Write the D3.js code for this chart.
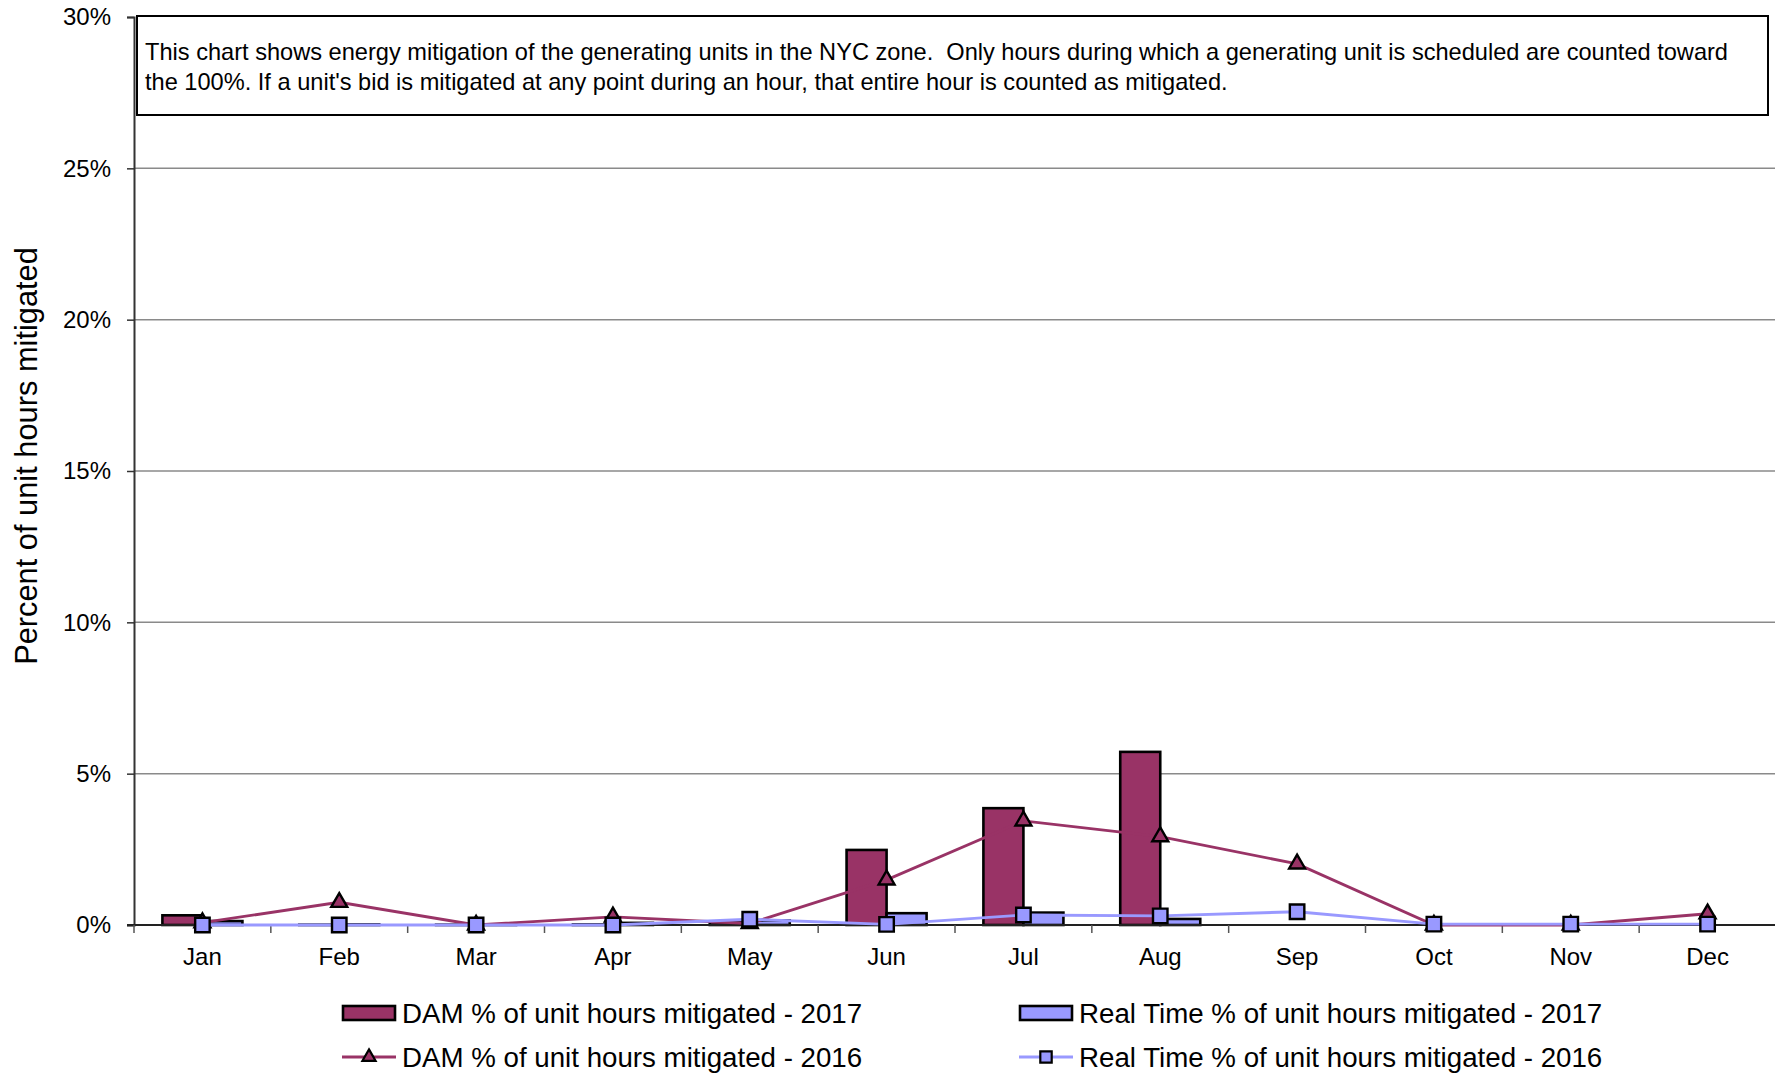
<!DOCTYPE html>
<html>
<head>
<meta charset="utf-8">
<script src="https://cdn.jsdelivr.net/npm/d3@7"></script>
<style>
  html, body { margin: 0; padding: 0; background: #fff; }
  svg { display: block; font-family: "Liberation Sans", Arial, sans-serif; }
</style>
</head>
<body>
<svg id="chart" width="1775" height="1073"></svg>
<script>
// ---------------- data ----------------
const months = ["Jan","Feb","Mar","Apr","May","Jun","Jul","Aug","Sep","Oct","Nov","Dec"];
const dam2017 = [0.32, 0.01, 0.01, 0.02, 0.10, 2.48, 3.86, 5.72, null, null, null, null];
const rt2017  = [0.13, 0.02, 0.01, 0.07, 0.15, 0.39, 0.41, 0.20, null, null, null, null];
const dam2016 = [0.08, 0.75, 0.00, 0.27, 0.05, 1.49, 3.44, 2.92, 2.02, 0.00, 0.00, 0.37];
const rt2016  = [0.00, 0.00, 0.00, 0.00, 0.19, 0.02, 0.33, 0.30, 0.44, 0.03, 0.03, 0.03];
const yTicks = [0, 5, 10, 15, 20, 25, 30];
const seriesNames = [
  "DAM % of unit hours mitigated - 2017",
  "Real Time % of unit hours mitigated - 2017",
  "DAM % of unit hours mitigated - 2016",
  "Real Time % of unit hours mitigated - 2016"
];
const yTitle = "Percent of unit hours mitigated";
const noteLines = [
  "This chart shows energy mitigation of the generating units in the NYC zone.  Only hours during which a generating unit is scheduled are counted toward",
  "the 100%. If a unit's bid is mitigated at any point during an hour, that entire hour is counted as mitigated."
];

// ---------------- layout ----------------
const maroon = "#993366", lav = "#9999FF";
const L = 134, R = 1776, T = 17, B = 925;
const svg = d3.select("#chart");

const x = d3.scaleBand().domain(months).range([L, R]).padding(0);
const x1 = d3.scaleBand().domain(["dam","rt"]).range([0, x.bandwidth()])
  .paddingInner(0).paddingOuter(0.71);
const y = d3.scaleLinear().domain([0, 30]).range([B, T]);

// gridlines
svg.append("g").selectAll("line").data(yTicks.filter(t => t > 0 && t < 30)).join("line")
  .attr("x1", L).attr("x2", R).attr("y1", d => y(d)).attr("y2", d => y(d))
  .attr("stroke", "#8a8a8a").attr("stroke-width", 1.5);

// y axis
const yAxis = d3.axisLeft(y).tickValues(yTicks).tickFormat(d => d + "%").tickSize(7).tickPadding(16);
const gy = svg.append("g").attr("transform", `translate(${L},0)`).call(yAxis);
gy.select(".domain").attr("stroke", "#333").attr("stroke-width", 2);
gy.selectAll(".tick line").attr("stroke", "#333").attr("stroke-width", 1.5);
gy.selectAll(".tick text").attr("font-size", 24).attr("fill", "#000")
  .attr("font-family", "'Liberation Sans', Arial, sans-serif");

// annotation box
const box = svg.append("g");
box.append("rect").attr("x", 137).attr("y", 16).attr("width", 1631).attr("height", 99)
  .attr("fill", "#fff").attr("stroke", "#000").attr("stroke-width", 2);
box.selectAll("text").data(noteLines).join("text")
  .attr("x", 145).attr("y", (d, i) => 60 + i * 29.5)
  .style("white-space", "pre")
  .attr("font-size", 23.6).attr("fill", "#000").text(d => d);

// bars
const barData = [];
months.forEach((m, i) => {
  if (dam2017[i] != null) barData.push({m, k: "dam", v: dam2017[i]});
  if (rt2017[i] != null) barData.push({m, k: "rt", v: rt2017[i]});
});
svg.append("g").selectAll("rect").data(barData).join("rect")
  .attr("x", d => x(d.m) + x1(d.k)).attr("width", x1.bandwidth())
  .attr("y", d => y(d.v)).attr("height", d => y(0) - y(d.v))
  .attr("fill", d => d.k === "dam" ? maroon : lav)
  .attr("stroke", "#000").attr("stroke-width", 2.6).attr("stroke-linejoin", "miter");

// x axis
const xAxis = d3.axisBottom(x).tickSize(0).tickPadding(23);
const gx = svg.append("g").attr("transform", `translate(0,${B})`).call(xAxis);
gx.select(".domain").remove();
gx.selectAll(".tick text").attr("font-size", 24).attr("fill", "#000")
  .attr("font-family", "'Liberation Sans', Arial, sans-serif");
svg.append("line").attr("x1", L - 7).attr("x2", R).attr("y1", B).attr("y2", B)
  .attr("stroke", "#222").attr("stroke-width", 2);
svg.append("g").selectAll("line").data(months).join("line")
  .attr("x1", d => x(d)).attr("x2", d => x(d)).attr("y1", B).attr("y2", B + 8)
  .attr("stroke", "#555").attr("stroke-width", 1.5);

// lines
const cx = m => x(m) + x.bandwidth() / 2;
const line = d3.line().x(d => cx(d.m)).y(d => y(d.v));
const d16 = months.map((m, i) => ({m, v: dam2016[i]}));
const r16 = months.map((m, i) => ({m, v: rt2016[i]}));
const tri = d3.symbol().type(d3.symbolTriangle).size(110);
const sq = d3.symbol().type(d3.symbolSquare).size(210);

svg.append("path").datum(d16).attr("d", line).attr("fill", "none")
  .attr("stroke", maroon).attr("stroke-width", 2.9);
svg.append("g").selectAll("path").data(d16).join("path")
  .attr("d", tri).attr("transform", d => `translate(${cx(d.m)},${y(d.v)})`)
  .attr("fill", maroon).attr("stroke", "#000").attr("stroke-width", 2.4);

svg.append("path").datum(r16).attr("d", line).attr("fill", "none")
  .attr("stroke", lav).attr("stroke-width", 2.9);
svg.append("g").selectAll("path").data(r16).join("path")
  .attr("d", sq).attr("transform", d => `translate(${cx(d.m)},${y(d.v)})`)
  .attr("fill", lav).attr("stroke", "#000").attr("stroke-width", 2.4);

// y title
svg.append("text").attr("transform", "translate(37,456) rotate(-90)")
  .attr("text-anchor", "middle").attr("font-size", 30.8).attr("fill", "#000").text(yTitle);

// legend
const legPos = [
  {x: 342, y: 1013}, {x: 1019, y: 1013},
  {x: 342, y: 1057}, {x: 1019, y: 1057}
];
const leg = svg.append("g");
seriesNames.forEach((name, i) => {
  const p = legPos[i];
  const g = leg.append("g").attr("transform", `translate(${p.x},${p.y})`);
  if (i < 2) {
    g.append("rect").attr("x", 1).attr("y", -7).attr("width", 52).attr("height", 14)
      .attr("fill", i === 0 ? maroon : lav).attr("stroke", "#000").attr("stroke-width", 2.6);
  } else {
    const col = i === 2 ? maroon : lav;
    g.append("line").attr("x1", 0).attr("x2", 54).attr("y1", 0).attr("y2", 0)
      .attr("stroke", col).attr("stroke-width", 2.8);
    g.append("path").attr("d", i === 2 ? d3.symbol().type(d3.symbolTriangle).size(75)()
                                        : d3.symbol().type(d3.symbolSquare).size(130)())
      .attr("transform", "translate(27,0)")
      .attr("fill", col).attr("stroke", "#000").attr("stroke-width", 2.2);
  }
  g.append("text").attr("x", 60).attr("y", 0).attr("dy", "0.35em")
    .attr("font-size", 27.7).attr("fill", "#000").text(name);
});
</script>
</body>
</html>
